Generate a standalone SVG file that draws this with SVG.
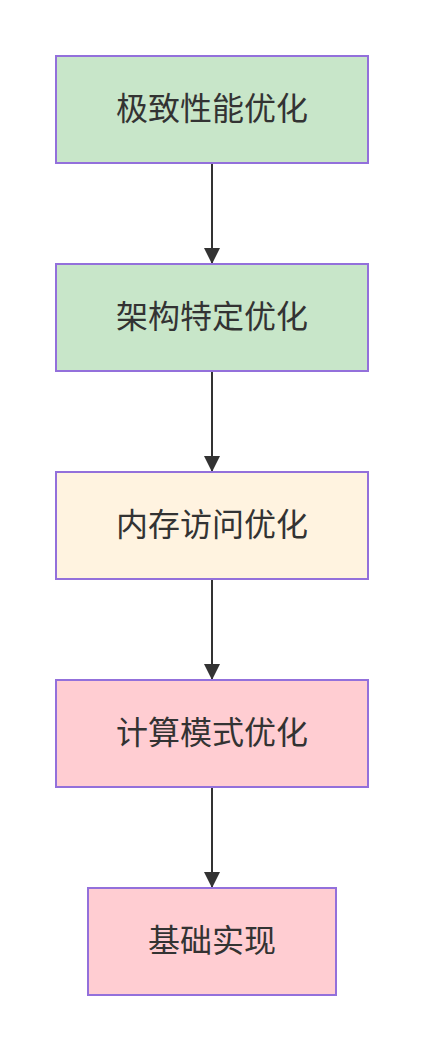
<svg xmlns="http://www.w3.org/2000/svg" width="424" height="1052" viewBox="0 0 424 1052">
<defs>
<style>
.node rect{stroke:#9370DB;stroke-width:2}
.g rect{fill:#c8e6c9}
.o rect{fill:#fff3e0}
.p rect{fill:#ffcdd2}
.node text{font-family:"Noto Sans CJK SC","Noto Sans",sans-serif;font-size:32px;fill:#333;text-anchor:middle;dominant-baseline:central}
.edge{stroke:#333;stroke-width:2;fill:none}
</style>
<marker id="arr" markerUnits="userSpaceOnUse" markerWidth="16" markerHeight="16" refX="16" refY="8" orient="auto" viewBox="0 0 16 16">
<path d="M0,0 L16,8 L0,16 z" fill="#333"/>
</marker>
</defs>
<rect width="424" height="1052" fill="#fff"/>
<g id="edges">
<line class="edge" x1="212" y1="164" x2="212" y2="264" marker-end="url(#arr)"/>
<line class="edge" x1="212" y1="372" x2="212" y2="472" marker-end="url(#arr)"/>
<line class="edge" x1="212" y1="580" x2="212" y2="680" marker-end="url(#arr)"/>
<line class="edge" x1="212" y1="788" x2="212" y2="888" marker-end="url(#arr)"/>
</g>
<g id="n1" class="node g"><rect x="56" y="56" width="312" height="107"/><text x="212" y="106">极致性能优化</text></g>
<g id="n2" class="node g"><rect x="56" y="264" width="312" height="107"/><text x="212" y="314">架构特定优化</text></g>
<g id="n3" class="node o"><rect x="56" y="472" width="312" height="107"/><text x="212" y="522">内存访问优化</text></g>
<g id="n4" class="node p"><rect x="56" y="680" width="312" height="107"/><text x="212" y="730">计算模式优化</text></g>
<g id="n5" class="node p"><rect x="88" y="888" width="248" height="107"/><text x="212" y="938">基础实现</text></g>
</svg>
